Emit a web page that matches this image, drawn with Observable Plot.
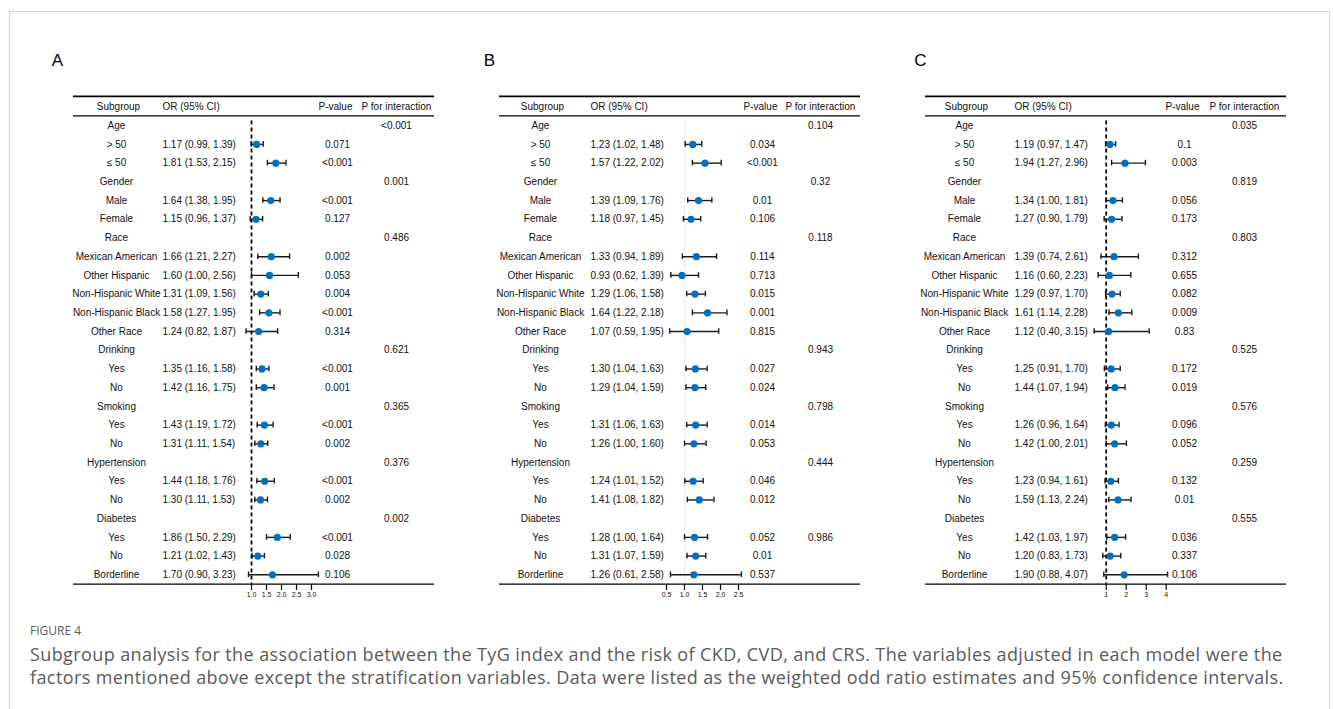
<!DOCTYPE html>
<html>
<head>
<meta charset="utf-8">
<script src="https://cdn.jsdelivr.net/npm/d3@7"></script>
<script src="https://cdn.jsdelivr.net/npm/@observablehq/plot@0.6"></script>
<style>
  html, body { margin: 0; padding: 0; background: #fff; overflow: hidden; }
  #page { position: relative; width: 1333px; height: 709px; background: #fff; }
  #border { position: absolute; left: 9px; top: 11px; width: 1321px; height: 760px; border: 1px solid #d2d2d2; box-sizing: border-box; }
  .panel { position: absolute; top: 0; }
  .panel svg { overflow: visible; }
  #figlabel { position: absolute; left: 30px; top: 622px; font-family: "Open Sans", "Noto Sans", sans-serif; font-size: 12px; color: #5a5a5a; }
  #caption { position: absolute; left: 30px; top: 643px; width: 1300px; white-space: nowrap; font-family: "Open Sans", "Noto Sans", sans-serif; font-size: 18px; letter-spacing: 0.4px; line-height: 23px; color: #5a5a5a; }
</style>
</head>
<body>
<div id="page">
  <div id="border"></div>
  <div id="panelA" class="panel"></div>
  <div id="panelB" class="panel"></div>
  <div id="panelC" class="panel"></div>
  <div id="figlabel">FIGURE 4</div>
  <div id="caption">Subgroup analysis for the association between the TyG index and the risk of CKD, CVD, and CRS. The variables adjusted in each model were the<br>factors mentioned above except the stratification variables. Data were listed as the weighted odd ratio estimates and 95% confidence intervals.</div>
</div>
<script>
// ---------------- DATA ----------------
const subgroups = ["Age", "> 50", "≤ 50", "Gender", "Male", "Female", "Race",
  "Mexican American", "Other Hispanic", "Non-Hispanic White", "Non-Hispanic Black", "Other Race",
  "Drinking", "Yes", "No", "Smoking", "Yes", "No", "Hypertension", "Yes", "No",
  "Diabetes", "Yes", "No", "Borderline"];

const headerLabels = ["Subgroup", "OR (95% CI)", "P-value", "P for interaction"];

// Panel A
const orA = [null, 1.17, 1.81, null, 1.64, 1.15, null, 1.66, 1.60, 1.31, 1.58, 1.24, null, 1.35, 1.42, null, 1.43, 1.31, null, 1.44, 1.30, null, 1.86, 1.21, 1.70];
const loA = [null, 0.99, 1.53, null, 1.38, 0.96, null, 1.21, 1.00, 1.09, 1.27, 0.82, null, 1.16, 1.16, null, 1.19, 1.11, null, 1.18, 1.11, null, 1.50, 1.02, 0.90];
const hiA = [null, 1.39, 2.15, null, 1.95, 1.37, null, 2.27, 2.56, 1.56, 1.95, 1.87, null, 1.58, 1.75, null, 1.72, 1.54, null, 1.76, 1.53, null, 2.29, 1.43, 3.23];
const pA  = ["", "0.071", "<0.001", "", "<0.001", "0.127", "", "0.002", "0.053", "0.004", "<0.001", "0.314", "", "<0.001", "0.001", "", "<0.001", "0.002", "", "<0.001", "0.002", "", "<0.001", "0.028", "0.106"];
const piA = ["<0.001", "", "", "0.001", "", "", "0.486", "", "", "", "", "", "0.621", "", "", "0.365", "", "", "0.376", "", "", "0.002", "", "", ""];
const ticksA = [1.0, 1.5, 2.0, 2.5, 3.0];

// Panel B
const orB = [null, 1.23, 1.57, null, 1.39, 1.18, null, 1.33, 0.93, 1.29, 1.64, 1.07, null, 1.30, 1.29, null, 1.31, 1.26, null, 1.24, 1.41, null, 1.28, 1.31, 1.26];
const loB = [null, 1.02, 1.22, null, 1.09, 0.97, null, 0.94, 0.62, 1.06, 1.22, 0.59, null, 1.04, 1.04, null, 1.06, 1.00, null, 1.01, 1.08, null, 1.00, 1.07, 0.61];
const hiB = [null, 1.48, 2.02, null, 1.76, 1.45, null, 1.89, 1.39, 1.58, 2.18, 1.95, null, 1.63, 1.59, null, 1.63, 1.60, null, 1.52, 1.82, null, 1.64, 1.59, 2.58];
const pB  = ["", "0.034", "<0.001", "", "0.01", "0.106", "", "0.114", "0.713", "0.015", "0.001", "0.815", "", "0.027", "0.024", "", "0.014", "0.053", "", "0.046", "0.012", "", "0.052", "0.01", "0.537"];
const piB = ["0.104", "", "", "0.32", "", "", "0.118", "", "", "", "", "", "0.943", "", "", "0.798", "", "", "0.444", "", "", "", "0.986", "", ""];
const ticksB = [0.5, 1.0, 1.5, 2.0, 2.5];

// Panel C
const orC = [null, 1.19, 1.94, null, 1.34, 1.27, null, 1.39, 1.16, 1.29, 1.61, 1.12, null, 1.25, 1.44, null, 1.26, 1.42, null, 1.23, 1.59, null, 1.42, 1.20, 1.90];
const loC = [null, 0.97, 1.27, null, 1.00, 0.90, null, 0.74, 0.60, 0.97, 1.14, 0.40, null, 0.91, 1.07, null, 0.96, 1.00, null, 0.94, 1.13, null, 1.03, 0.83, 0.88];
const hiC = [null, 1.47, 2.96, null, 1.81, 1.79, null, 2.61, 2.23, 1.70, 2.28, 3.15, null, 1.70, 1.94, null, 1.64, 2.01, null, 1.61, 2.24, null, 1.97, 1.73, 4.07];
const pC  = ["", "0.1", "0.003", "", "0.056", "0.173", "", "0.312", "0.655", "0.082", "0.009", "0.83", "", "0.172", "0.019", "", "0.096", "0.052", "", "0.132", "0.01", "", "0.036", "0.337", "0.106"];
const piC = ["0.035", "", "", "0.819", "", "", "0.803", "", "", "", "", "", "0.525", "", "", "0.576", "", "", "0.259", "", "", "0.555", "", "", ""];
const ticksC = [1, 2, 3, 4];

// ---------------- LAYOUT (page pixel positions) ----------------
const layouts = {
  A: {label: "A", labelX: 57, lineL: 73, lineR: 434, subC: 116, orL: 162, pCx: 337, piCx: 396,
      xDomain: [1, 3], xRange: [251, 311], refStroke: "#000", refDash: "4,3", refWidth: 1.8, fmt: d3.format(".1f")},
  B: {label: "B", labelX: 489, lineL: 499, lineR: 860, subC: 540, orL: 590, pCx: 762, piCx: 820,
      xDomain: [0.5, 2.5], xRange: [666, 738], refStroke: "#d9d9d9", refDash: "2,2", refWidth: 1, fmt: d3.format(".1f")},
  C: {label: "C", labelX: 920, lineL: 925, lineR: 1286, subC: 964, orL: 1014, pCx: 1184, piCx: 1244,
      xDomain: [1, 4], xRange: [1105.7, 1165.7], refStroke: "#000", refDash: "4,3", refWidth: 1.8, fmt: d3.format("d")}
};

function buildRows(or, lo, hi, p, pi) {
  return subgroups.map((s, i) => ({
    row: i, label: s, or: or[i], lo: lo[i], hi: hi[i], p: p[i], pi: pi[i],
    ci: or[i] == null ? "" : `${or[i].toFixed(2)} (${lo[i].toFixed(2)}, ${hi[i].toFixed(2)})`
  }));
}

function panel(cfg, rows, ticks) {
  const mL = 20, mR = 5;
  const left = cfg.lineL - mL;
  const width = cfg.lineR - cfg.lineL + mL + mR;
  const est = rows.filter(d => d.or != null);
  const header = [{row: -1}];
  const font = {fontSize: 10, fill: "#111", frameAnchor: "left"};
  const off = px => px - cfg.lineL;
  const svg = Plot.plot({
    width, height: 610,
    marginLeft: mL, marginRight: mR, marginTop: 0, marginBottom: 26,
    style: {fontFamily: "'Liberation Sans', Arial, sans-serif", background: "transparent", overflow: "visible"},
    x: {type: "linear", domain: cfg.xDomain, range: cfg.xRange.map(v => v - left)},
    y: {type: "linear", domain: [-1, 24], range: [106.5, 574.3], axis: null},
    marks: [
      // table lines
      Plot.ruleY([-1.57], {stroke: "#000", strokeWidth: 1.6}),
      Plot.ruleY([-0.53], {stroke: "#000", strokeWidth: 1.2}),
      Plot.ruleY([24.5], {stroke: "#000", strokeWidth: 1.2}),
      // reference line at OR = 1
      Plot.ruleX([1], {y1: -0.25, y2: 24.5, stroke: cfg.refStroke, strokeDasharray: cfg.refDash, strokeWidth: cfg.refWidth}),
      // CIs
      Plot.ruleY(est, {y: "row", x1: "lo", x2: "hi", stroke: "#1a1a1a", strokeWidth: 1.4}),
      Plot.ruleX(est, {x: "lo", y1: d => d.row - 0.15, y2: d => d.row + 0.15, stroke: "#1a1a1a", strokeWidth: 1.4}),
      Plot.ruleX(est, {x: "hi", y1: d => d.row - 0.15, y2: d => d.row + 0.15, stroke: "#1a1a1a", strokeWidth: 1.4}),
      Plot.dot(est, {x: "or", y: "row", r: 3.6, fill: "#0070C0", stroke: "none"}),
      // axis
      Plot.axisX({anchor: "bottom", ticks, tickFormat: cfg.fmt, tickSize: 6, tickPadding: 1.5, fontSize: 7, stroke: "#000", strokeWidth: 1.2, fill: "#111", label: null}),
      // header
      Plot.text(header, {...font, y: "row", text: () => headerLabels[0], textAnchor: "middle", dx: off(cfg.subC + 2)}),
      Plot.text(header, {...font, y: "row", text: () => headerLabels[1], textAnchor: "start", dx: off(cfg.orL)}),
      Plot.text(header, {...font, y: "row", text: () => headerLabels[2], textAnchor: "middle", dx: off(cfg.pCx - 2)}),
      Plot.text(header, {...font, y: "row", text: () => headerLabels[3], textAnchor: "middle", dx: off(cfg.piCx)}),
      // columns
      Plot.text(rows, {...font, y: "row", text: "label", textAnchor: "middle", dx: off(cfg.subC)}),
      Plot.text(rows, {...font, y: "row", text: "ci", textAnchor: "start", dx: off(cfg.orL)}),
      Plot.text(rows, {...font, y: "row", text: "p", textAnchor: "middle", dx: off(cfg.pCx)}),
      Plot.text(rows, {...font, y: "row", text: "pi", textAnchor: "middle", dx: off(cfg.piCx)}),
      // panel letter
      Plot.text([cfg.label], {frameAnchor: "top-left", text: d => d, textAnchor: "middle", lineAnchor: "middle",
        dx: off(cfg.labelX), dy: 60, fontSize: 17, fill: "#000"})
    ]
  });
  return {svg, left};
}

[["A", buildRows(orA, loA, hiA, pA, piA), ticksA],
 ["B", buildRows(orB, loB, hiB, pB, piB), ticksB],
 ["C", buildRows(orC, loC, hiC, pC, piC), ticksC]].forEach(([k, rows, ticks]) => {
  const {svg, left} = panel(layouts[k], rows, ticks);
  const host = document.getElementById("panel" + k);
  host.style.left = left + "px";
  host.appendChild(svg);
});
</script>
</body>
</html>
